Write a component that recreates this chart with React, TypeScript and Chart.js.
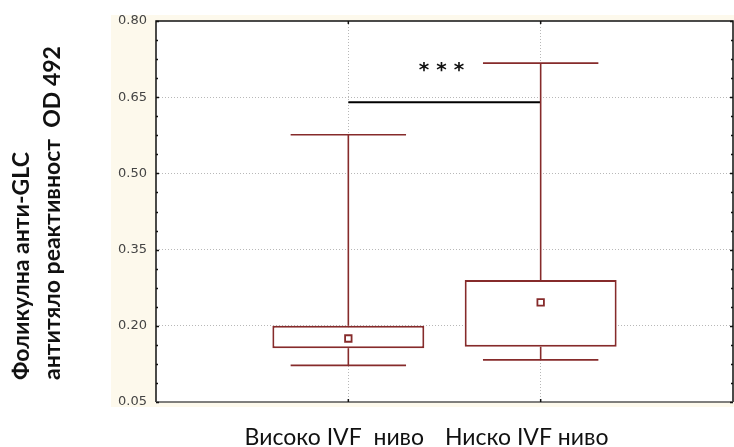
import React, { useEffect, useRef } from 'react';
import { Chart, registerables } from 'chart.js';

Chart.register(...registerables);

// ---- data ----
const categories = ['Високо IVF  ниво', 'Ниско IVF ниво'];
const whiskerLow = [0.122, 0.133];
const boxLow = [0.156, 0.159];
const boxHigh = [0.2, 0.29];
const whiskerHigh = [0.576, 0.717];
const meanValues = [0.175, 0.246];
const sigLevel = 0.64;
const sigLabel = '* * *';
const yMin = 0.05;
const yMax = 0.8;
const yStep = 0.15;
const yTitleLines = ['Фоликулна анти-GLC', 'антитяло реактивност  OD 492'];

// padded to leave an empty slot at each end of the category axis
const pad = <T,>(arr: T[]): (T | null)[] => [null, ...arr, null];
const labels = ['', ...categories, ''];

const MAROON = '#862b2b';

const decoPlugin = {
  id: 'deco',
  beforeDraw(chart: any) {
    const { ctx, chartArea: a, width } = chart;
    ctx.save();
    ctx.fillStyle = '#fdf9ec';
    ctx.fillRect(a.left - 45, a.top - 6, width - (a.left - 45), a.bottom - a.top + 11);
    ctx.fillStyle = '#ffffff';
    ctx.fillRect(a.left, a.top, a.right - a.left, a.bottom - a.top);
    ctx.restore();
  },
  afterDatasetsDraw(chart: any) {
    const { ctx, chartArea: a, scales } = chart;
    const xs = scales.x;
    const ys = scales.y;
    const spacing = xs.getPixelForValue(2) - xs.getPixelForValue(1);
    ctx.save();
    // whiskers
    ctx.strokeStyle = MAROON;
    ctx.lineWidth = 1.6;
    categories.forEach((_, i) => {
      const x = xs.getPixelForValue(i + 1);
      const half = spacing * 0.3;
      ctx.beginPath();
      ctx.moveTo(x, ys.getPixelForValue(whiskerLow[i]));
      ctx.lineTo(x, ys.getPixelForValue(boxLow[i]));
      ctx.moveTo(x, ys.getPixelForValue(boxHigh[i]));
      ctx.lineTo(x, ys.getPixelForValue(whiskerHigh[i]));
      ctx.moveTo(x - half, ys.getPixelForValue(whiskerLow[i]));
      ctx.lineTo(x + half, ys.getPixelForValue(whiskerLow[i]));
      ctx.moveTo(x - half, ys.getPixelForValue(whiskerHigh[i]));
      ctx.lineTo(x + half, ys.getPixelForValue(whiskerHigh[i]));
      ctx.stroke();
    });

    // frame
    ctx.lineWidth = 1.5;
    ctx.strokeStyle = '#111';
    ctx.beginPath();
    ctx.moveTo(a.left, a.bottom);
    ctx.lineTo(a.left, a.top);
    ctx.lineTo(a.right, a.top);
    ctx.lineTo(a.right, a.bottom);
    ctx.stroke();
    ctx.strokeStyle = '#555';
    ctx.beginPath();
    ctx.moveTo(a.left, a.bottom);
    ctx.lineTo(a.right, a.bottom);
    ctx.stroke();

    // inward ticks on left and right
    ctx.strokeStyle = '#111';
    ctx.lineWidth = 1.5;
    const minor = yStep / 4;
    for (let v = yMin; v <= yMax + 1e-9; v += minor) {
      const k = Math.round((v - yMin) / minor);
      const len = k % 4 === 0 ? 3 : 2;
      const y = Math.round(ys.getPixelForValue(v)) + 0.5;
      ctx.beginPath();
      ctx.moveTo(a.left, y);
      ctx.lineTo(a.left + len, y);
      ctx.moveTo(a.right, y);
      ctx.lineTo(a.right - len, y);
      ctx.stroke();
    }
    // top/bottom ticks at categories
    categories.forEach((_, i) => {
      const x = xs.getPixelForValue(i + 1);
      ctx.beginPath();
      ctx.moveTo(x, a.top);
      ctx.lineTo(x, a.top + 3);
      ctx.moveTo(x, a.bottom);
      ctx.lineTo(x, a.bottom - 3);
      ctx.stroke();
    });

    // significance label
    ctx.fillStyle = '#111';
    ctx.font = 'bold 20px "DejaVu Sans"';
    ctx.textAlign = 'center';
    ctx.textBaseline = 'middle';
    const midX = (xs.getPixelForValue(1) + xs.getPixelForValue(2)) / 2 - 3;
    ctx.fillText(sigLabel, midX, ys.getPixelForValue(sigLevel + 0.07) + 4);

    // y title (two rotated lines, start-aligned)
    ctx.font = 'bold 23px Lato';
    ctx.textAlign = 'left';
    ctx.textBaseline = 'middle';
    const lineXs = [22, 53];
    yTitleLines.forEach((t, i) => {
      ctx.save();
      ctx.translate(lineXs[i], a.bottom - 22);
      ctx.rotate(-Math.PI / 2);
      ctx.fillText(t, 0, 0);
      ctx.restore();
    });
    ctx.restore();
  },
};

export default function App() {
  const ref = useRef<HTMLCanvasElement | null>(null);
  useEffect(() => {
    if (!ref.current) return;
    const chart = new Chart(ref.current, {
      type: 'bar',
      data: {
        labels,
        datasets: [
          {
            type: 'bar',
            data: pad(boxLow.map((lo, i) => [lo, boxHigh[i]])) as any,
            backgroundColor: '#ffffff',
            borderColor: MAROON,
            borderWidth: 2,
            borderSkipped: false,
            categoryPercentage: 1,
            barPercentage: 0.79,
            order: 3,
          },
          {
            type: 'line',
            data: pad([sigLevel, sigLevel]) as any,
            borderColor: '#000',
            borderWidth: 2,
            pointRadius: 0,
            spanGaps: false,
            order: 2,
          },
          {
            type: 'line',
            data: pad(meanValues) as any,
            showLine: false,
            pointStyle: 'rect',
            pointRadius: 4.6,
            pointBorderWidth: 1.8,
            pointBorderColor: MAROON,
            pointBackgroundColor: '#ffffff',
            order: 1,
          },
        ],
      },
      options: {
        responsive: false,
        animation: false,
        layout: { autoPadding: false, padding: { top: 21, right: 1, left: 0, bottom: 0 } },
        plugins: { legend: { display: false }, tooltip: { enabled: false } },
        scales: {
          x: {
            type: 'category',
            offset: false,
            grid: {
              offset: false,
              drawTicks: false,
              color: (c: any) => (c.index === 0 || c.index === 3 ? 'rgba(0,0,0,0)' : '#b8b8b8'),
            },
            border: { display: false, dash: [1, 2] },
            ticks: {
              font: { family: 'Lato', size: 23 },
              color: '#111',
              padding: 22,
              labelOffset: -14,
              maxRotation: 0,
              autoSkip: false,
            },
            afterFit: (s: any) => {
              s.height = 45;
              s.paddingLeft = 0;
              s.paddingRight = 0;
            },
          },
          y: {
            min: yMin,
            max: yMax,
            grid: {
              drawTicks: false,
              color: (c: any) =>
                c.tick && (c.tick.value <= yMin + 1e-6 || c.tick.value >= yMax - 1e-6) ? 'rgba(0,0,0,0)' : '#b8b8b8',
            },
            border: { display: false, dash: [1, 2] },
            ticks: {
              stepSize: yStep,
              padding: 9,
              font: { family: 'DejaVu Sans', size: 13 },
              color: '#444',
              callback: (v: any) => Number(v).toFixed(2),
            },
            afterFit: (s: any) => {
              s.width = 156;
            },
          },
        },
      },
      plugins: [decoPlugin],
    });
    return () => chart.destroy();
  }, []);
  return (
    <div style={{ position: 'fixed', left: 0, top: 0, width: 734, height: 447, background: '#fff' }}>
      <canvas ref={ref} width={734} height={447} />
    </div>
  );
}
